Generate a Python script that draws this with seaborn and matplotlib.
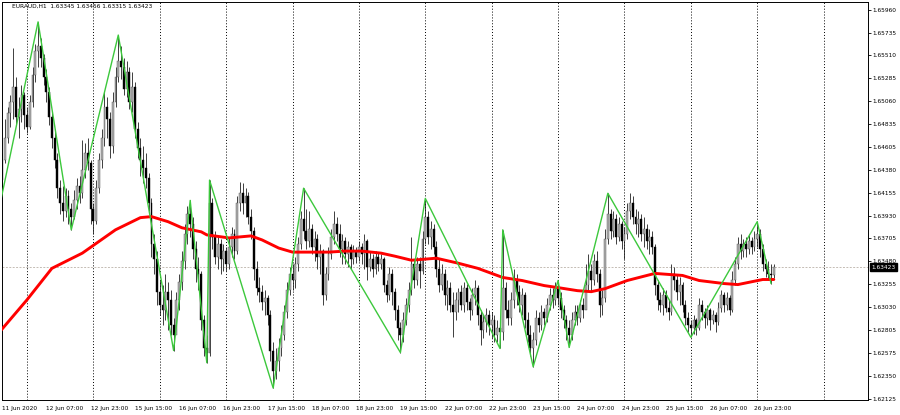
import pandas as pd
import matplotlib
matplotlib.use("Agg")
import matplotlib.pyplot as plt
import matplotlib.transforms as mtransforms
import seaborn as sns

# EURAUD H1 candles, bar 0 = 11 Jun 2020 15:00
first_open = 1.6428
close = [
    1.6448, 1.6470, 1.6494, 1.6505, 1.6520, 1.6490, 1.6498, 1.6512, 1.6492, 1.6480, 1.6505, 1.6532, 1.6555, 1.6560,
    1.6548, 1.6530, 1.6515, 1.6490, 1.6470, 1.6448, 1.6420, 1.6405, 1.6398, 1.6412, 1.6400, 1.6392,
    1.6408, 1.6422, 1.6415, 1.6438, 1.6455, 1.6445, 1.6400, 1.6388, 1.6420, 1.6448, 1.6470, 1.6500, 1.6488, 1.6462, 1.6505, 1.6530, 1.6545,
    1.6540, 1.6518, 1.6535, 1.6505, 1.6520, 1.6478, 1.6460, 1.6448, 1.6440, 1.6430, 1.6405, 1.6365, 1.6350, 1.6318, 1.6305, 1.6300, 1.6318, 1.6310, 1.6285, 1.6275,
    1.6310, 1.6328, 1.6348, 1.6375, 1.6395, 1.6385, 1.6360, 1.6340, 1.6335, 1.6290, 1.6262, 1.6258, 1.6405,
    1.6372, 1.6352, 1.6365, 1.6350, 1.6358, 1.6345, 1.6362, 1.6375, 1.6358, 1.6405, 1.6415, 1.6405, 1.6412, 1.6392, 1.6378, 1.6340, 1.6322, 1.6318, 1.6308, 1.6312, 1.6295, 1.6260, 1.6240,
    1.6250, 1.6262, 1.6275, 1.6298, 1.6320, 1.6335, 1.6330, 1.6345, 1.6365, 1.6390, 1.6378,
    1.6368, 1.6380, 1.6362, 1.6370, 1.6352, 1.6358, 1.6315, 1.6335, 1.6355, 1.6372, 1.6385, 1.6375, 1.6360, 1.6368, 1.6355, 1.6362, 1.6350, 1.6358,
    1.6352, 1.6362, 1.6355, 1.6368, 1.6342, 1.6350, 1.6340, 1.6352, 1.6345, 1.6350, 1.6325, 1.6315, 1.6335, 1.6318, 1.6300, 1.6282, 1.6275,
    1.6290, 1.6305, 1.6320, 1.6345, 1.6330, 1.6345, 1.6338, 1.6370, 1.6392,
    1.6372, 1.6380, 1.6362, 1.6340, 1.6325, 1.6335, 1.6315, 1.6322, 1.6305, 1.6298, 1.6310, 1.6318, 1.6305, 1.6322,
    1.6308, 1.6300, 1.6315, 1.6322, 1.6295, 1.6280, 1.6288, 1.6295, 1.6285, 1.6290, 1.6275, 1.6282, 1.6278,
    1.6322, 1.6300, 1.6292, 1.6310, 1.6330, 1.6318, 1.6305, 1.6315, 1.6290, 1.6275, 1.6262, 1.6270, 1.6292, 1.6285, 1.6298,
    1.6292, 1.6305, 1.6315, 1.6310, 1.6322, 1.6312, 1.6300, 1.6290, 1.6282, 1.6275, 1.6290, 1.6298, 1.6292, 1.6305, 1.6300,
    1.6325, 1.6338, 1.6330, 1.6348, 1.6335, 1.6305, 1.6312, 1.6370, 1.6395, 1.6378, 1.6390, 1.6372, 1.6385, 1.6368, 1.6375,
    1.6398, 1.6405, 1.6392, 1.6385, 1.6390, 1.6375, 1.6380, 1.6368, 1.6372, 1.6362, 1.6325, 1.6310, 1.6305, 1.6315, 1.6302,
    1.6298, 1.6335, 1.6330, 1.6318, 1.6325, 1.6305, 1.6292, 1.6285, 1.6282, 1.6290, 1.6282, 1.6305, 1.6298, 1.6292, 1.6300,
    1.6290, 1.6295, 1.6288, 1.6302, 1.6315, 1.6305, 1.6312, 1.6300, 1.6330, 1.6345, 1.6365, 1.6358, 1.6365, 1.6360, 1.6368,
    1.6362, 1.6370, 1.6375, 1.6360, 1.6345, 1.6340, 1.6335, 1.6334, 1.63423,
]
high = [
    1.6455, 1.6488, 1.6500, 1.6512, 1.6558, 1.6530, 1.6510, 1.6522, 1.6515, 1.6500, 1.6512, 1.6540, 1.6562, 1.6584,
    1.6568, 1.6552, 1.6538, 1.6520, 1.6495, 1.6478, 1.6455, 1.6428, 1.6422, 1.6420, 1.6418, 1.6405,
    1.6418, 1.6430, 1.6432, 1.6468, 1.6465, 1.6470, 1.6448, 1.6405, 1.6428, 1.6455, 1.6478, 1.6515, 1.6510, 1.6495, 1.6515, 1.6540, 1.6571,
    1.6560, 1.6548, 1.6545, 1.6540, 1.6535, 1.6525, 1.6485, 1.6470, 1.6462, 1.6455, 1.6435, 1.6410, 1.6375, 1.6358, 1.6330, 1.6325, 1.6335, 1.6328, 1.6320, 1.6292,
    1.6318, 1.6335, 1.6358, 1.6385, 1.6402, 1.6408, 1.6392, 1.6368, 1.6352, 1.6338, 1.6295, 1.6275, 1.6428,
    1.6410, 1.6378, 1.6372, 1.6370, 1.6365, 1.6362, 1.6372, 1.6382, 1.6380, 1.6412, 1.6426, 1.6425, 1.6420, 1.6416, 1.6400, 1.6382, 1.6348, 1.6332, 1.6325, 1.6320, 1.6315, 1.6300, 1.6268,
    1.6262, 1.6272, 1.6285, 1.6305, 1.6328, 1.6342, 1.6345, 1.6352, 1.6372, 1.6398, 1.6420,
    1.6400, 1.6398, 1.6385, 1.6378, 1.6375, 1.6365, 1.6360, 1.6342, 1.6362, 1.6380, 1.6398, 1.6392, 1.6385, 1.6375, 1.6372, 1.6368, 1.6365, 1.6364,
    1.6362, 1.6368, 1.6366, 1.6375, 1.6370, 1.6358, 1.6355, 1.6358, 1.6356, 1.6355, 1.6352, 1.6330, 1.6342, 1.6340, 1.6322, 1.6305, 1.6288,
    1.6298, 1.6312, 1.6328, 1.6372, 1.6350, 1.6352, 1.6352, 1.6378, 1.6410,
    1.6398, 1.6388, 1.6385, 1.6368, 1.6350, 1.6345, 1.6340, 1.6330, 1.6328, 1.6318, 1.6318, 1.6322, 1.6325, 1.6328,
    1.6326, 1.6312, 1.6322, 1.6330, 1.6325, 1.6300, 1.6295, 1.6302, 1.6300, 1.6298, 1.6295, 1.6290, 1.6290,
    1.6379, 1.6328, 1.6310, 1.6318, 1.6340, 1.6335, 1.6325, 1.6322, 1.6318, 1.6298, 1.6285, 1.6278, 1.6300, 1.6298, 1.6305,
    1.6302, 1.6312, 1.6322, 1.6322, 1.6328, 1.6329, 1.6318, 1.6305, 1.6295, 1.6290, 1.6298, 1.6305, 1.6305, 1.6310, 1.6312,
    1.6345, 1.6355, 1.6345, 1.6355, 1.6358, 1.6340, 1.6320, 1.6380, 1.6415, 1.6400, 1.6398, 1.6395, 1.6392, 1.6388, 1.6382,
    1.6405, 1.6415, 1.6412, 1.6400, 1.6398, 1.6395, 1.6392, 1.6385, 1.6380, 1.6378, 1.6365, 1.6330, 1.6318, 1.6322, 1.6320,
    1.6310, 1.6345, 1.6342, 1.6335, 1.6332, 1.6328, 1.6310, 1.6298, 1.6290, 1.6295, 1.6292, 1.6312, 1.6310, 1.6302, 1.6305,
    1.6302, 1.6300, 1.6298, 1.6308, 1.6320, 1.6318, 1.6318, 1.6315, 1.6338, 1.6352, 1.6372, 1.6375, 1.6370, 1.6372, 1.6375,
    1.6372, 1.6378, 1.6387, 1.6380, 1.6365, 1.6350, 1.6348, 1.6345, 1.63456,
]
low = [
    1.6420, 1.6445, 1.6465, 1.6480, 1.6488, 1.6482, 1.6470, 1.6485, 1.6478, 1.6474, 1.6478, 1.6500, 1.6525, 1.6540,
    1.6540, 1.6522, 1.6505, 1.6482, 1.6460, 1.6440, 1.6410, 1.6395, 1.6388, 1.6392, 1.6385, 1.6379,
    1.6390, 1.6400, 1.6405, 1.6410, 1.6430, 1.6438, 1.6385, 1.6375, 1.6385, 1.6415, 1.6440, 1.6462, 1.6470, 1.6450, 1.6455, 1.6500, 1.6525,
    1.6528, 1.6512, 1.6510, 1.6498, 1.6495, 1.6470, 1.6450, 1.6432, 1.6425, 1.6420, 1.6398, 1.6352, 1.6335, 1.6305, 1.6295, 1.6285, 1.6290, 1.6280, 1.6275, 1.6260,
    1.6280, 1.6300, 1.6320, 1.6340, 1.6365, 1.6372, 1.6350, 1.6328, 1.6320, 1.6280, 1.6255, 1.6248, 1.6255,
    1.6360, 1.6345, 1.6340, 1.6335, 1.6338, 1.6338, 1.6340, 1.6352, 1.6350, 1.6355, 1.6398, 1.6395, 1.6392, 1.6385, 1.6370, 1.6330, 1.6315, 1.6308, 1.6300, 1.6295, 1.6285, 1.6250, 1.6223,
    1.6232, 1.6240, 1.6255, 1.6270, 1.6292, 1.6315, 1.6320, 1.6322, 1.6338, 1.6360, 1.6370,
    1.6360, 1.6362, 1.6355, 1.6348, 1.6340, 1.6335, 1.6305, 1.6310, 1.6330, 1.6350, 1.6365, 1.6368, 1.6352, 1.6345, 1.6345, 1.6342, 1.6340, 1.6345,
    1.6346, 1.6348, 1.6345, 1.6340, 1.6330, 1.6338, 1.6332, 1.6335, 1.6338, 1.6340, 1.6318, 1.6308, 1.6310, 1.6305, 1.6290, 1.6270, 1.6258,
    1.6268, 1.6285, 1.6298, 1.6315, 1.6322, 1.6325, 1.6322, 1.6335, 1.6365,
    1.6365, 1.6360, 1.6355, 1.6332, 1.6318, 1.6320, 1.6305, 1.6300, 1.6298, 1.6273, 1.6290, 1.6298, 1.6300, 1.6298,
    1.6300, 1.6290, 1.6295, 1.6305, 1.6285, 1.6265, 1.6272, 1.6278, 1.6275, 1.6272, 1.6268, 1.6268, 1.6262,
    1.6270, 1.6292, 1.6285, 1.6285, 1.6302, 1.6305, 1.6298, 1.6295, 1.6282, 1.6268, 1.6255, 1.6244, 1.6265, 1.6278, 1.6280,
    1.6285, 1.6288, 1.6300, 1.6302, 1.6305, 1.6305, 1.6292, 1.6282, 1.6270, 1.6263, 1.6270, 1.6285, 1.6285, 1.6288, 1.6292,
    1.6312, 1.6320, 1.6318, 1.6325, 1.6328, 1.6293, 1.6295, 1.6308, 1.6365, 1.6370, 1.6372, 1.6365, 1.6368, 1.6360, 1.6350,
    1.6370, 1.6390, 1.6385, 1.6375, 1.6372, 1.6368, 1.6362, 1.6360, 1.6355, 1.6355, 1.6315, 1.6300, 1.6298, 1.6295, 1.6298,
    1.6290, 1.6295, 1.6320, 1.6310, 1.6305, 1.6298, 1.6285, 1.6278, 1.6273, 1.6276, 1.6275, 1.6280, 1.6290, 1.6282, 1.6285,
    1.6280, 1.6286, 1.6278, 1.6285, 1.6298, 1.6298, 1.6300, 1.6295, 1.6298, 1.6325, 1.6340, 1.6350, 1.6352, 1.6352, 1.6355,
    1.6355, 1.6358, 1.6362, 1.6352, 1.6338, 1.6332, 1.6330, 1.6326, 1.63315,
]

# zigzag turning points (bar, price)
zz_bar = [-2, 13, 25, 42, 62, 68, 74, 75, 98, 109, 144, 153, 180, 181, 192, 201, 205, 219, 249, 273, 278]
zz_price = [1.6388, 1.6584, 1.6379, 1.6571, 1.6260, 1.6408, 1.6248, 1.6428, 1.6223, 1.6420, 1.6258,
            1.6410, 1.6262, 1.6379, 1.6244, 1.6329, 1.6263, 1.6415, 1.6273, 1.6387, 1.6326]

# red moving average
ma_bar = [-1, 9, 18, 29, 41, 50, 54, 60, 65, 72, 74, 82, 90, 94, 100, 105, 111, 118, 124, 130, 137,
          142, 148, 157, 165, 172, 181, 188, 196, 201, 208, 213, 218, 226, 236, 246, 252, 261, 266, 275, 279]
ma_price = [1.6278, 1.6310, 1.6341, 1.6356, 1.6379, 1.6391, 1.6392, 1.6387, 1.6381, 1.6377, 1.6374,
            1.6371, 1.6373, 1.6369, 1.6361, 1.6357, 1.6357, 1.6357, 1.6358, 1.6358, 1.6356, 1.6353,
            1.6349, 1.6351, 1.6346, 1.6341, 1.6332, 1.6329, 1.6324, 1.6322, 1.6319, 1.6318, 1.6321,
            1.6329, 1.6336, 1.6334, 1.6329, 1.6326, 1.6325, 1.6330, 1.6330]

day_lines = [9, 33, 57, 81, 105, 129, 153, 177, 201, 225, 249, 273, 297]
xtick_bars = [0, 16, 32, 48, 64, 80, 96, 112, 128, 144, 160, 176, 192, 208, 224, 240, 256, 272]
xtick_labels = ["11 Jun 2020", "12 Jun 07:00", "12 Jun 23:00", "15 Jun 15:00", "16 Jun 07:00",
                "16 Jun 23:00", "17 Jun 15:00", "18 Jun 07:00", "18 Jun 23:00", "19 Jun 15:00",
                "22 Jun 07:00", "22 Jun 23:00", "23 Jun 15:00", "24 Jun 07:00", "24 Jun 23:00",
                "25 Jun 15:00", "26 Jun 07:00", "26 Jun 23:00"]
ytick_vals = [1.65960, 1.65735, 1.65510, 1.65285, 1.65060, 1.64835, 1.64605, 1.64380, 1.64155,
              1.63930, 1.63705, 1.63480, 1.63255, 1.63030, 1.62805, 1.62575, 1.62350, 1.62125]
ytick_labels = ["%.5f" % v for v in ytick_vals]
bid_price = 1.63423
header = "EURAUD,H1  1.63345 1.63456 1.63315 1.63423"

df = pd.DataFrame({"close": close, "high": high, "low": low})
df["bar"] = range(len(df))
df["open"] = [first_open] + close[:-1]
up = df[df.close >= df.open]
down = df[df.close < df.open]

sns.set_style("white")
plt.rcParams["font.family"] = ["DejaVu Sans"]

fig = plt.figure(figsize=(9, 4.15), dpi=100)
ax = fig.add_axes([2 / 900, 15 / 415, 866 / 900, 398 / 415])

for d in day_lines:
    ax.axvline(d, color="black", lw=0.7, ls=(0, (1, 2)), zorder=0.5)
ax.axhline(bid_price, color="#c4bcb4", lw=0.7, ls=(0, (2, 1.5)), zorder=0.6)

ax.vlines(df.bar, df.low, df.high, color="#202020", lw=0.6, zorder=1)
ax.bar(up.bar, (up.close - up.open).clip(lower=0.00003), bottom=up.open, width=0.68,
       color="#b0b0b0", edgecolor="#505050", linewidth=0.3, zorder=2)
ax.bar(down.bar, (down.close - down.open).clip(upper=-0.00003), bottom=down.open, width=0.68,
       color="#000000", edgecolor="#000000", linewidth=0.3, zorder=2)

sns.lineplot(x=ma_bar, y=ma_price, color="#ff0000", lw=2.1, ax=ax, zorder=3)
sns.lineplot(x=zz_bar, y=zz_price, color="#3cc83c", lw=1.0, sort=False, estimator=None, ax=ax, zorder=4)

ax.set_xlim(-0.04, 313.05)
ax.set_ylim(1.62112, 1.66036)

ax.yaxis.tick_right()
ax.set_yticks(ytick_vals, ytick_labels)
ax.set_xticks(xtick_bars, xtick_labels)
for lbl in ax.get_xticklabels():
    lbl.set_ha("left")
ax.tick_params(axis="y", length=2.5, width=0.6, pad=1, labelsize=4.2, colors="black")
ax.tick_params(axis="x", length=2, width=0.6, pad=2, labelsize=4.2, colors="black")
ax.set_xlabel("")
ax.set_ylabel("")
for s in ax.spines.values():
    s.set_color("#000000")
    s.set_linewidth(0.7)

ax.text(0.0115, 0.995, header, transform=ax.transAxes, ha="left", va="top", fontsize=4.2, color="black")

trans = mtransforms.blended_transform_factory(ax.transAxes, ax.transData)
ax.text(1.0035, bid_price, "%.5f" % bid_price, transform=trans, ha="left", va="center",
        fontsize=4.2, color="white", zorder=10,
        bbox=dict(boxstyle="square,pad=0.25", fc="black", ec="black"))

fig.savefig("out.png", dpi=100)
